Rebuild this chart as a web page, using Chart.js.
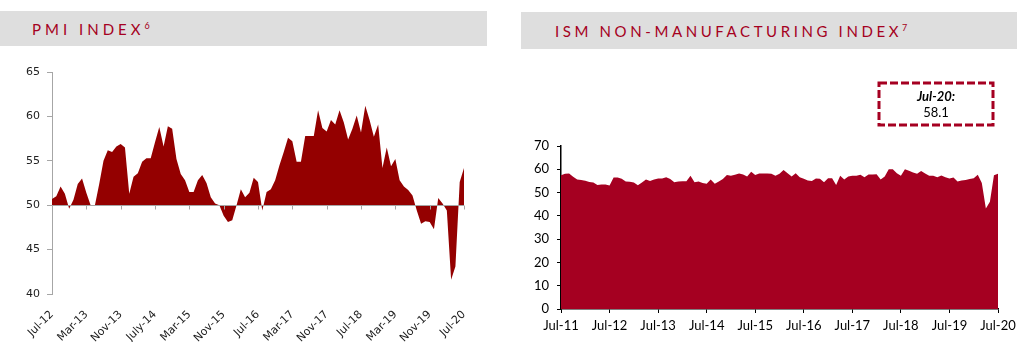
<!DOCTYPE html>
<html>
<head>
<meta charset="utf-8">
<script src="https://cdn.jsdelivr.net/npm/chart.js@4.4.1/dist/chart.umd.min.js"></script>
<style>
  body { margin: 0; width: 1017px; height: 342px; background: #fff; position: relative; overflow: hidden; font-family: Lato, sans-serif; }
  .hdr { position: absolute; background: #dedede; color: #a50021; font-size: 15px; letter-spacing: 4px; }
  .hdr .t { position: absolute; top: 50%; transform: translateY(-50%); white-space: nowrap; }
  .hdr sup { font-size: 9px; letter-spacing: 0; vertical-align: 6px; line-height: 0; }
  #pmiHdr { left: 0; top: 11px; width: 487px; height: 35px; }
  #pmiHdr .t { left: 32px; }
  #ismHdr { left: 521px; top: 12px; width: 496px; height: 37px; letter-spacing: 3.6px; }
  #ismHdr .t { left: 34px; }
  canvas { position: absolute; }
  #pmiChart { left: 0; top: 55px; }
  #ismChart { left: 515px; top: 55px; }
</style>
</head>
<body>
<div class="hdr" id="pmiHdr"><span class="t">PMI INDEX<sup>6</sup></span></div>
<div class="hdr" id="ismHdr"><span class="t">ISM NON-MANUFACTURING INDEX<sup>7</sup></span></div>
<canvas id="pmiChart" width="490" height="287"></canvas>
<canvas id="ismChart" width="502" height="287"></canvas>
<script>
// month categories like "Jul-12"
var MONTHS = ['Jan','Feb','Mar','Apr','May','Jun','Jul','Aug','Sep','Oct','Nov','Dec'];
function monthRange(year, month, count) {
  var out = [];
  for (var i = 0; i < count; i++) {
    var m = (month + i) % 12;
    var y = year + Math.floor((month + i) / 12);
    out.push(MONTHS[m] + '-' + String(y % 100).padStart(2, '0'));
  }
  return out;
}

// PMI, Jul-12 .. Jul-20
var pmiMonths = monthRange(2012, 6, 97);
var pmiTicks = ['Jul-12','Mar-13','Nov-13','July-14','Mar-15','Nov-15','Jul-16','Mar-17','Nov-17','Jul-18','Mar-19','Nov-19','Jul-20'];
var pmiValues = [
  50.7, 51.0, 52.1, 51.3, 49.6, 50.6, 52.4, 53.0, 51.4, 50.0,
  50.0, 52.4, 55.0, 56.2, 56.0, 56.6, 56.9, 56.5, 51.3, 53.2,
  53.6, 54.9, 55.3, 55.3, 57.1, 58.8, 56.6, 58.9, 58.6, 55.2,
  53.5, 52.8, 51.5, 51.5, 52.8, 53.4, 52.5, 50.9, 50.2, 50.0,
  48.8, 48.1, 48.3, 50.0, 51.8, 50.9, 51.4, 53.1, 52.6, 49.4,
  51.5, 51.8, 52.8, 54.5, 56.0, 57.6, 57.2, 54.9, 54.9, 57.8,
  57.8, 57.8, 60.7, 58.7, 58.3, 59.6, 59.1, 60.7, 59.3, 57.4,
  58.6, 60.1, 58.2, 61.2, 59.6, 57.7, 59.1, 54.2, 56.5, 54.4,
  55.2, 52.8, 52.1, 51.7, 51.1, 49.4, 47.9, 48.2, 48.1, 47.3,
  50.8, 50.2, 49.4, 41.6, 43.1, 52.6, 54.2
];

// ISM non-manufacturing, Jul-11 .. Jul-20
var ismMonths = monthRange(2011, 6, 109);
var ismTicks = ['Jul-11','Jul-12','Jul-13','Jul-14','Jul-15','Jul-16','Jul-17','Jul-18','Jul-19','Jul-20'];
var ismValues = [
  57.4, 58.1, 58.2, 56.8, 55.6, 55.4, 55.1, 54.5, 54.3, 53.3,
  53.5, 53.5, 53.0, 56.5, 56.5, 55.9, 54.8, 54.6, 54.3, 53.1,
  54.3, 55.6, 55.0, 55.6, 56.0, 56.0, 56.6, 55.8, 54.4, 54.8,
  54.9, 54.9, 57.2, 54.4, 54.8, 54.1, 53.8, 55.6, 53.8, 54.8,
  55.8, 57.5, 57.2, 57.7, 58.2, 57.8, 56.9, 58.9, 57.5, 58.2,
  58.2, 58.2, 58.1, 57.2, 58.1, 59.7, 58.3, 56.9, 58.3, 56.6,
  55.9, 55.2, 55.0, 56.0, 55.9, 54.4, 56.2, 56.2, 53.3, 57.2,
  55.6, 56.9, 57.2, 57.2, 57.7, 56.6, 57.8, 57.8, 57.9, 55.6,
  56.9, 60.0, 60.0, 58.3, 57.2, 60.0, 59.4, 58.6, 58.1, 59.3,
  58.2, 57.2, 57.2, 56.6, 57.3, 56.6, 56.0, 56.5, 54.8, 55.2,
  55.4, 55.8, 56.2, 57.7, 54.1, 43.2, 46.1, 57.4, 58.1
];

// line at 50 with small tick marks every 8 months
var baseline50 = {
  id: 'baseline50',
  afterDatasetsDraw: function (chart) {
    var ctx = chart.ctx, area = chart.chartArea;
    var x = chart.scales.x, y = chart.scales.y;
    var yy = Math.round(y.getPixelForValue(50)) + 0.5;
    ctx.save();
    ctx.strokeStyle = '#a6a6a6';
    ctx.lineWidth = 1;
    ctx.beginPath();
    ctx.moveTo(area.left, yy);
    ctx.lineTo(area.right, yy);
    for (var i = 0; i < pmiMonths.length; i += 8) {
      var xx = Math.round(x.getPixelForValue(i)) + 0.5;
      ctx.moveTo(xx, yy);
      ctx.lineTo(xx, yy + 4);
    }
    ctx.stroke();
    ctx.restore();
  }
};

// dashed call-out with the latest reading
var lastValueBox = {
  id: 'lastValueBox',
  afterDraw: function (chart) {
    var ctx = chart.ctx, area = chart.chartArea;
    var last = ismValues.length - 1;
    var w = 114, h = 42;
    var left = area.right - 5 - w, top = area.top - 63;
    ctx.save();
    ctx.setLineDash([8, 3]);
    ctx.lineWidth = 3;
    ctx.strokeStyle = '#a50021';
    ctx.strokeRect(left, top, w, h);
    ctx.setLineDash([]);
    ctx.fillStyle = '#000';
    ctx.textAlign = 'center';
    ctx.textBaseline = 'middle';
    ctx.font = 'italic bold 13px Lato';
    ctx.fillText(ismMonths[last] + ':', left + w / 2, top + 14);
    ctx.font = '13px Lato';
    ctx.fillText(ismValues[last].toFixed(1), left + w / 2, top + 30);
    ctx.restore();
  }
};

new Chart(document.getElementById('pmiChart'), {
  type: 'line',
  data: {
    labels: pmiMonths,
    datasets: [{
      data: pmiValues,
      fill: { value: 50 },
      backgroundColor: '#940000',
      borderWidth: 0,
      pointRadius: 0,
      tension: 0
    }]
  },
  options: {
    responsive: false,
    animation: false,
    layout: { padding: { top: 17, right: 26, left: 0, bottom: 0 } },
    plugins: { legend: { display: false }, tooltip: { enabled: false } },
    scales: {
      x: {
        offset: false,
        grid: { display: false },
        border: { display: false },
        ticks: {
          autoSkip: false,
          maxRotation: 45,
          minRotation: 45,
          padding: 6,
          color: '#222',
          font: { family: 'DejaVu Sans', size: 11 },
          callback: function (v, i) { return i % 8 === 0 ? pmiTicks[i / 8] : null; }
        },
        afterFit: function (s) { s.height = 48; }
      },
      y: {
        min: 40,
        max: 65,
        ticks: { stepSize: 5, padding: 7, color: '#222', font: { family: 'DejaVu Sans', size: 11 } },
        grid: { drawOnChartArea: false, tickLength: 5, color: '#a6a6a6' },
        border: { color: '#a6a6a6' },
        afterFit: function (s) { s.width = 52; }
      }
    }
  },
  plugins: [baseline50]
});

new Chart(document.getElementById('ismChart'), {
  type: 'line',
  data: {
    labels: ismMonths,
    datasets: [{
      data: ismValues,
      fill: 'origin',
      backgroundColor: '#a50021',
      borderWidth: 0,
      pointRadius: 0,
      tension: 0
    }]
  },
  options: {
    responsive: false,
    animation: false,
    layout: { padding: { top: 91, right: 19, left: 0, bottom: 0 } },
    plugins: { legend: { display: false }, tooltip: { enabled: false } },
    scales: {
      x: {
        offset: false,
        grid: { drawOnChartArea: false, tickLength: 4, color: '#000' },
        border: { color: '#000', width: 1.5 },
        ticks: {
          autoSkip: false,
          maxRotation: 0,
          minRotation: 0,
          padding: 5,
          color: '#000',
          font: { family: 'Lato', size: 13 },
          callback: function (v, i) { return i % 12 === 0 ? ismTicks[i / 12] : null; }
        },
        // let the last label run off the right edge
        afterFit: function (s) { s.height = 33; s.paddingRight = 0; }
      },
      y: {
        min: 0,
        max: 70,
        ticks: { stepSize: 10, padding: 8, color: '#000', font: { family: 'Lato', size: 13 } },
        grid: { drawOnChartArea: false, tickLength: 4, color: '#000' },
        border: { color: '#000', width: 1.5 },
        afterFit: function (s) { s.width = 46; }
      }
    }
  },
  plugins: [lastValueBox]
});
</script>
</body>
</html>
